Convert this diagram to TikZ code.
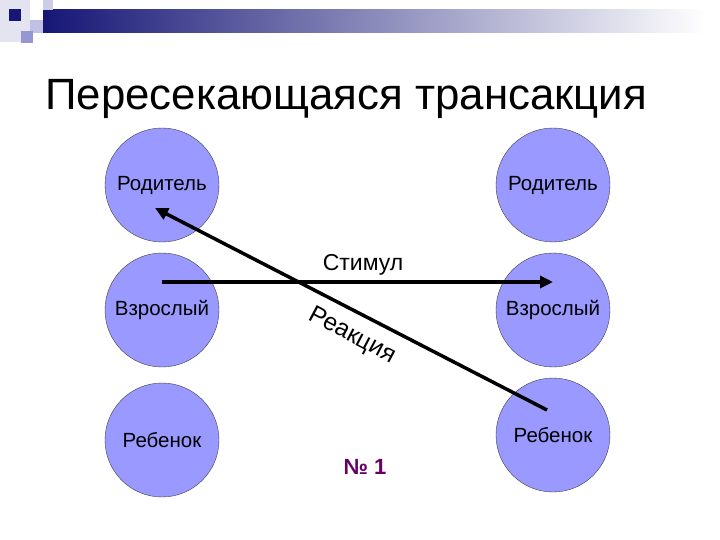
\documentclass[tikz,border=0pt]{standalone}
\usepackage{fontspec}
\setmainfont{Liberation Sans}
\usetikzlibrary{arrows.meta}
\definecolor{egoblue}{RGB}{153,153,255}
\definecolor{barnavy}{RGB}{22,22,118}
\definecolor{boxlav}{RGB}{150,150,210}
\definecolor{boxpale}{RGB}{228,228,240}
\definecolor{numpurple}{RGB}{102,0,102}

\begin{document}
\begin{tikzpicture}[x=1pt, y=-1pt,
    egostate/.style={circle, draw=black!75, thin, fill=egoblue, minimum size=114pt, inner sep=0pt, font=\fontsize{20.5}{24}\selectfont},
    transarrow/.style={line width=3.5pt, -{Triangle[length=13pt,width=12pt]}}]
    \useasboundingbox (0,0) rectangle (720,540);
    % header bar
    \fill[boxpale] (0,0) rectangle (30,42);
    \shade[left color=barnavy, right color=white] (43,10) rectangle (705,33);
    \fill[boxpale!70!boxlav] (43,0) rectangle (53,10);
    \fill[boxlav!60!white] (30,20) rectangle (43,33);
    \fill[boxlav] (21,31) rectangle (33,43);
    \fill[barnavy] (9,9) rectangle (21,21);
    \node[anchor=base west, inner sep=0pt, font=\fontsize{43.8}{50}\selectfont] (title) at (45,110) {Пересекающаяся трансакция};
    % ego states
    \node[egostate] (parentL) at (162,185) {Родитель};
    \node[egostate] (adultL) at (162,310) {Взрослый};
    \node[egostate] (childL) at (162,440) {Ребенок};
    \node[egostate] (parentR) at (553,185) {Родитель};
    \node[egostate] (adultR) at (553,310) {Взрослый};
    \node[egostate] (childR) at (553,435) {Ребенок};
    % transactions
    \draw[transarrow] ([yshift=28pt]adultL.center) -- ([yshift=28pt]adultR.center);
    \draw[transarrow] ([xshift=-6pt,yshift=25pt]childR.center) -- ([xshift=-7pt,yshift=-23pt]parentL.center);
    \node[font=\fontsize{23}{26}\selectfont] (stimul) at (363,265) {Стимул};
    \node[rotate=-28, font=\fontsize{24.5}{28}\selectfont] (reakc) at (352,336) {Реакция};
    \node[text=numpurple, font=\bfseries\fontsize{22}{26}\selectfont] (nomer) at (365,467) {№ 1};
\end{tikzpicture}
\end{document}
